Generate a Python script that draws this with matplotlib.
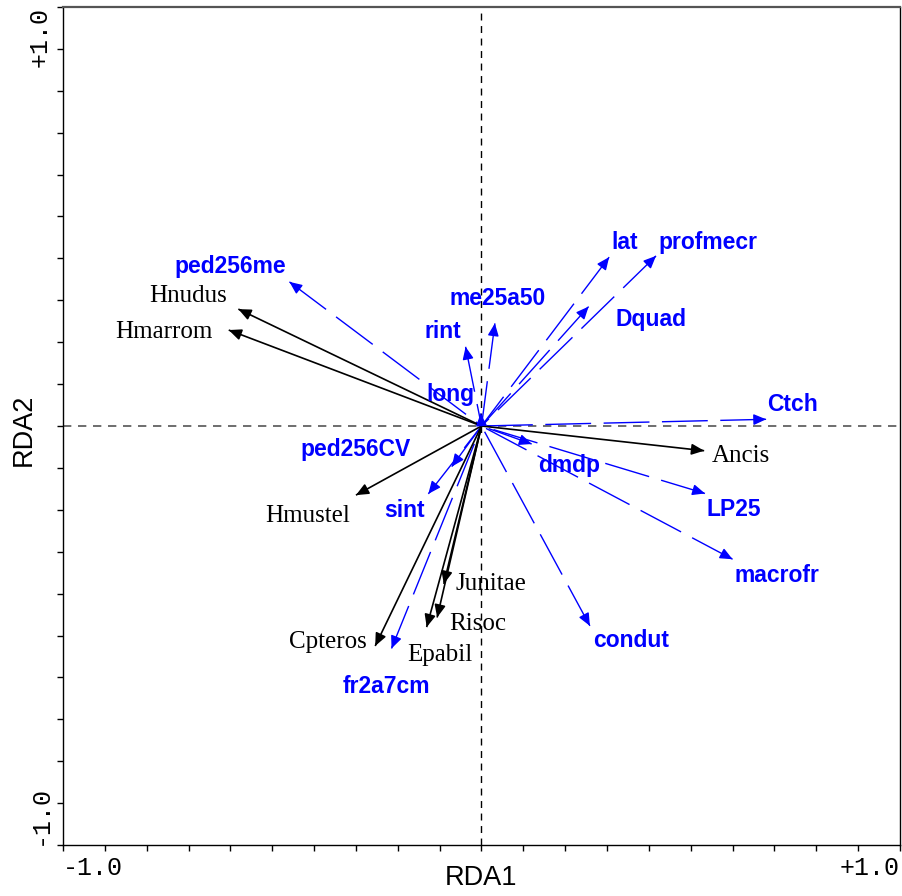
import numpy as np
import matplotlib
matplotlib.use("Agg")
import matplotlib.pyplot as plt

# Species (response) arrows
species = ["Hnudus", "Hmarrom", "Ancis", "Hmustel", "Junitae", "Risoc", "Epabil", "Cpteros"]
sp_x = [-0.581, -0.604, 0.532, -0.300, -0.090, -0.106, -0.131, -0.254]
sp_y = [0.279, 0.229, -0.059, -0.165, -0.377, -0.457, -0.480, -0.525]
sp_lab_x = [-0.701, -0.759, 0.620, -0.416, 0.022, -0.010, -0.099, -0.368]
sp_lab_y = [0.310, 0.224, -0.072, -0.215, -0.377, -0.473, -0.547, -0.516]

# Environmental variable arrows
env = ["ped256me", "rint", "me25a50", "long", "lat", "profmecr", "Dquad", "Ctch",
       "dmdp", "LP25", "macrofr", "condut", "ped256CV", "sint", "fr2a7cm"]
env_x = [-0.459, -0.038, 0.032, -0.002, 0.305, 0.417, 0.256, 0.680,
         0.120, 0.534, 0.600, 0.259, -0.071, -0.127, -0.215]
env_y = [0.344, 0.189, 0.245, 0.030, 0.403, 0.406, 0.285, 0.016,
         -0.043, -0.161, -0.318, -0.477, -0.097, -0.162, -0.531]
env_lab_x = [-0.600, -0.093, 0.038, -0.074, 0.343, 0.542, 0.406, 0.743,
             0.210, 0.603, 0.705, 0.357, -0.302, -0.183, -0.227]
env_lab_y = [0.380, 0.225, 0.305, 0.074, 0.437, 0.437, 0.255, 0.0525,
             -0.095, -0.200, -0.356, -0.512, -0.057, -0.202, -0.622]

ticks = np.round(np.linspace(-1.0, 1.0, 21), 2)
end_labels = {-1.0: "-1.0", 1.0: "+1.0"}

fig = plt.figure(figsize=(9.03, 8.96), dpi=100)
ax = fig.add_axes([63 / 903, 51 / 896, 837 / 903, 838 / 896])
ax.set_xlim(-1.0, 1.0)
ax.set_ylim(-1.0, 1.0)

# origin dashed lines
ax.axhline(0, color="#555555", lw=1.2, ls=(0, (5, 4)), zorder=1)
ax.axvline(0, color="black", lw=1.0, ls=(0, (5, 4)), zorder=1)

head = "-|>,head_length=0.75,head_width=0.33"


def draw_arrow(x, y, color, ls, lw):
    ax.plot([x, 0], [y, 0], color=color, lw=lw, ls=ls, solid_capstyle="butt",
            dash_capstyle="butt", zorder=2)
    L = np.hypot(x, y)
    d = min(0.02, L * 0.5)
    bx, by = x - d * x / L, y - d * y / L
    ax.annotate("", xy=(x, y), xytext=(bx, by),
                arrowprops=dict(arrowstyle=head, color=color, lw=lw,
                                mutation_scale=10, shrinkA=0, shrinkB=0),
                zorder=3)


for x, y in zip(env_x, env_y):
    draw_arrow(x, y, "#0000FF", (0, (33, 9)), 1.0)
for x, y in zip(sp_x, sp_y):
    draw_arrow(x, y, "black", "-", 1.2)

for name, x, y in zip(species, sp_lab_x, sp_lab_y):
    ax.text(x, y, name, family="Liberation Serif", fontsize=18, color="black",
            ha="center", va="center", zorder=4)
for name, x, y in zip(env, env_lab_x, env_lab_y):
    ax.text(x, y, name, family="Liberation Sans", fontweight="bold", fontsize=16.5,
            color="#0000FF", ha="center", va="center", zorder=4)

# ticks
ax.set_xticks(ticks)
ax.set_yticks(ticks)
ax.set_xticklabels([end_labels.get(t, "") for t in ticks],
                   family="Liberation Mono", fontsize=18)
ax.set_yticklabels([end_labels.get(t, "") for t in ticks],
                   family="Liberation Mono", fontsize=18, rotation=90)
ax.tick_params(direction="out", length=4, width=1, pad=4)
xl = ax.get_xticklabels()
xl[0].set_ha("left")
xl[-1].set_ha("right")
yl = ax.get_yticklabels()
yl[0].set_va("bottom")
yl[-1].set_va("top")

for s in ["left", "right", "bottom"]:
    ax.spines[s].set_color("black")
    ax.spines[s].set_linewidth(1.0)
ax.spines["top"].set_color("#555555")
ax.spines["top"].set_linewidth(1.6)

ax.set_xlabel("RDA1", family="Liberation Sans", fontsize=19.5)
ax.set_ylabel("RDA2", family="Liberation Sans", fontsize=19.5)
ax.xaxis.set_label_coords(0.5, (18 - 51) / 838)
ax.xaxis.label.set_va("center")
ax.yaxis.set_label_coords((24 - 63) / 837, (896 - 430 - 51) / 838)
ax.yaxis.label.set_va("center")
ax.yaxis.label.set_ha("center")

fig.savefig("out.png", dpi=100)
